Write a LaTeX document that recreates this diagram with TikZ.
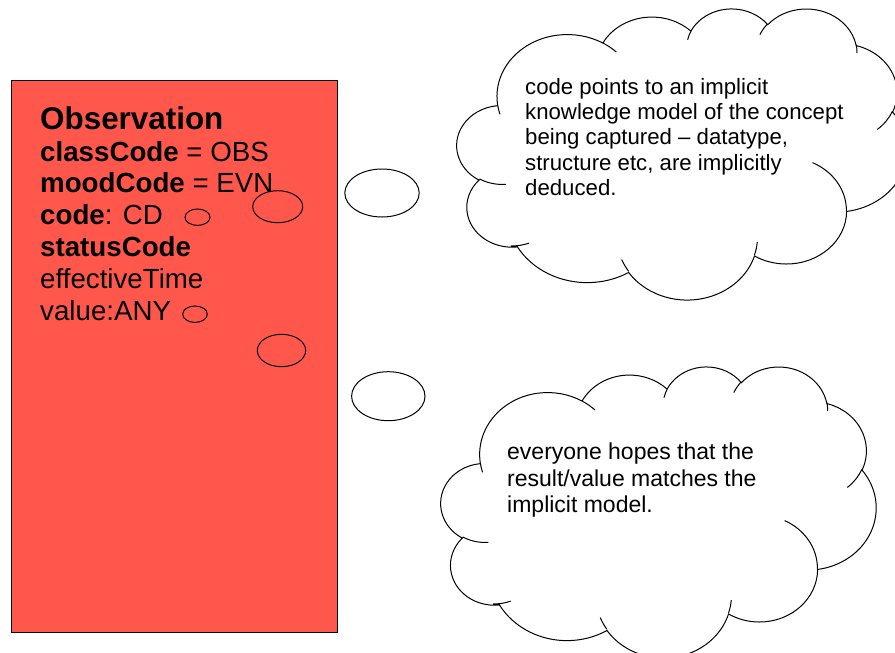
\documentclass[tikz,border=0pt]{standalone}
\usepackage{fontspec}
\setmainfont{Liberation Sans}
\usetikzlibrary{calc}

\definecolor{obsred}{RGB}{255,87,76}

% one puff of a cloud: x radius, y radius, start angle, sweep
% (angles are seen from the centre, so turn them into ellipse angles)
\newcommand\puffangles[4]{%
  \pgfmathsetmacro\puffs{atan2((#1)*sin(#3),(#2)*cos(#3))}%
  \pgfmathsetmacro\puffe{atan2((#1)*sin((#3)+(#4)),(#2)*cos((#3)+(#4)))}%
  \pgfmathsetmacro\puffd{mod((\puffe)-(\puffs)-(#4)+1260,360)-180+(#4)}%
  \global\let\puffs\puffs
  \global\let\puffd\puffd}
\newcommand\puff[4]{\pgfextra{\puffangles{#1}{#2}{#3}{#4}}
  arc[start angle=\puffs, delta angle=\puffd, x radius=#1, y radius=#2]}

% cloud in a 432 x 432 box
\newcommand\cloudoutline{%
  (39.00,143.70) \puff{67.53}{91.90}{-190.4875}{123.7805}
  \puff{53.33}{72.67}{-144.1024}{89.9452}
  \puff{43.65}{59.45}{-145.8079}{99.7230}
  \puff{48.57}{65.95}{-130.9861}{117.2417}
  \puff{53.33}{72.73}{-78.7089}{109.0269}
  \puff{67.75}{92.20}{-46.2673}{130.2690}
  \puff{57.85}{78.67}{0.6250}{114.0333}
  \puff{67.52}{92.15}{22.4516}{115.1726}
  \puff{77.20}{105.43}{66.2426}{75.7110}
  \puff{43.60}{59.18}{-274.9421}{146.7356}
  \puff{43.45}{59.45}{-246.8285}{152.5189} -- cycle
  % inner strokes
  (46.93,261.77) \puff{43.45}{59.45}{86.7420}{26.4295}
  (69.28,348.99) \puff{43.60}{59.18}{73.6106}{17.8210}
  (164.78,390.90) \puff{67.52}{92.15}{137.6242}{14.0806}
  (288.27,347.51) \puff{67.52}{92.15}{6.4533}{15.9984}
  (341.29,229.54) \puff{57.85}{78.67}{-70.2924}{70.9174}
  (417.98,153.54) \puff{53.33}{72.73}{30.3180}{27.7515}
  (383.24,54.26) \puff{48.57}{65.95}{-13.7443}{14.8589}
  (290.78,39.52) \puff{48.57}{65.95}{-149.1815}{18.1954}
  (221.41,47.20) \puff{43.65}{59.45}{-163.4943}{17.6864}
  (140.00,51.92) \puff{67.53}{91.90}{-66.7070}{12.3194}
  (41.27,157.89) \puff{67.53}{91.90}{157.6544}{11.8582}}
\newcommand\drawcloud[4]{% left, top, width, height
  \pgfmathsetmacro\cloudx{#3/432}
  \pgfmathsetmacro\cloudy{#4/432}
  \begin{scope}[shift={(#1,#2)}, x=\cloudx pt, y=-\cloudy pt]
    \draw[pen] \cloudoutline;
  \end{scope}}

\tikzset{
  pen/.style={line width=1pt, black},
  title/.style={anchor=base west, inner sep=0pt, font=\fontsize{31.4}{36}\selectfont\bfseries},
  attr/.style={anchor=base west, inner sep=0pt, font=\fontsize{27.7}{32}\selectfont},
  note/.style={anchor=base west, inner sep=0pt, font=\fontsize{23}{26.5}\selectfont}
}

\begin{document}
\begin{tikzpicture}[x=1pt, y=-1pt]
  \useasboundingbox (0,0) rectangle (895,653);

  % the class box
  \draw[pen, fill=obsred] (11.3,80.3) rectangle (337.7,632.7);
  \node[title] (obs) at (40,129.3) {Observation};
  \foreach \txt [count=\i] in {{\textbf{classCode} = OBS},
      {\textbf{moodCode} = EVN}, {\textbf{code}: CD}, {\textbf{statusCode}},
      {effectiveTime}, {value:ANY}}
    \node[attr] (attr\i) at (40,129.3+31.8*\i) {\txt};

  % clouds
  \drawcloud{457}{8}{450}{291}
  \drawcloud{441}{366}{435}{291}

  % thought bubbles
  \draw[pen] (382,193) ellipse [x radius=37.2, y radius=24]
             (277.7,206.7) ellipse [x radius=25, y radius=16]
             (197.5,217.2) ellipse [x radius=12.5, y radius=8.2]; % code
  \draw[pen] (388.3,396.2) ellipse [x radius=36.7, y radius=24.5]
             (281.5,350.5) ellipse [x radius=24.2, y radius=16.2]
             (195,314.2) ellipse [x radius=12.3, y radius=8.2];   % value

  % cloud texts
  \foreach \txt [count=\i] in {{code points to an implicit},
      {knowledge model of the concept}, {being captured – datatype,},
      {structure etc, are implicitly}, {deduced.}}
    \node[note, font=\fontsize{22.2}{25.4}\selectfont] (top\i) at (525,94+25.4*\i-25.4) {\txt};
  \foreach \txt [count=\i] in {{everyone hopes that the},
      {result/value matches the}, {implicit model.}}
    \node[note] (low\i) at (507,459.5+26.5*\i-26.5) {\txt};
\end{tikzpicture}
\end{document}
